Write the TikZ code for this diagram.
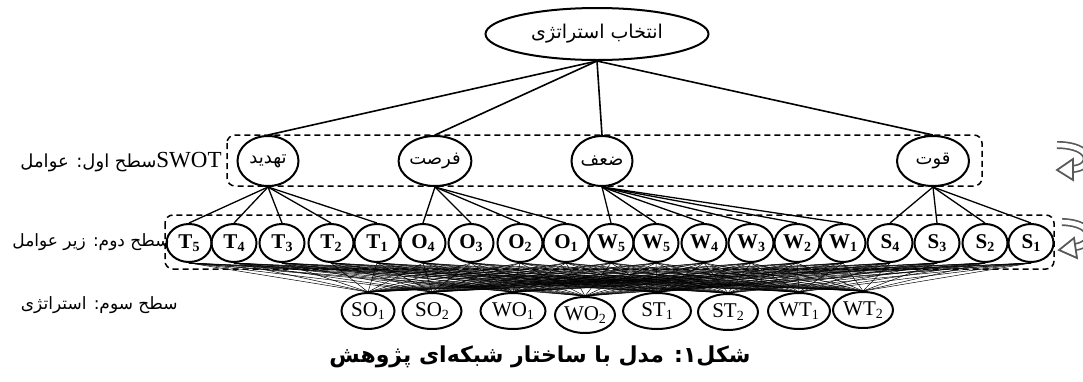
\documentclass[tikz,border=0pt]{standalone}
\usepackage{fontspec}
\setmainfont{Liberation Serif}
\newfontfamily\fa[Script=Arabic]{DejaVu Sans}
\TeXXeTstate=1
\usetikzlibrary{shapes.geometric,arrows.meta}
\newcommand\lsub[1]{\raisebox{-0.25ex}{\fontsize{7}{7}\selectfont #1}}
\begin{document}
\begin{tikzpicture}[x=0.5pt,y=-0.5pt,
  topnode/.style={ellipse,draw,line width=1pt,inner sep=0pt,minimum width=111.5pt,minimum height=26pt,font=\fa\fontsize{9.5}{10}\selectfont},
  lonenode/.style={ellipse,draw,line width=1pt,inner sep=0pt,minimum width=30.5pt,minimum height=25pt,font=\fa\fontsize{9}{10}\selectfont},
  ltwonode/.style={ellipse,draw,line width=1pt,inner sep=0pt,minimum width=22.5pt,minimum height=19pt,font=\bfseries\fontsize{10.5}{10}\selectfont},
  lthreenode/.style={ellipse,draw,line width=1pt,inner sep=0pt,minimum height=18pt,font=\fontsize{10.5}{10}\selectfont},
  topedge/.style={line width=0.8pt},
  midedge/.style={line width=0.65pt},
  meshedge/.style={line width=0.25pt},
  dashbox/.style={dashed,line width=0.75pt,dash pattern=on 3pt off 2pt,rounded corners=4pt},
  lvllabel/.style={anchor=east,inner sep=0pt,font=\fa\fontsize{8.5}{10}\selectfont},
  hollowarrow/.style={line width=4pt,draw=black!65},
  hollowinner/.style={line width=2.3pt,draw=white}
]
\useasboundingbox (0,0) rectangle (1083,381);

% dashed boxes
\draw[dashbox] (227,135) rectangle (982,186);
\draw[dashbox] (165,215) rectangle (1054,269);

% top node
\node[topnode] (top) at (597,34) {\beginR انتخاب استراتژی\endR};

% level 1
\node[lonenode] (thr) at (268,161) {\beginR تهدید\endR};
\node[lonenode] (opp) at (435,161) {\beginR فرصت\endR};
\node[lonenode] (wea) at (602,161) {\beginR ضعف\endR};
\node[lonenode,minimum width=36pt] (str) at (933,161) {\beginR قوت\endR};

\foreach \n in {thr,opp,wea,str} \draw[topedge] (top.south) -- (\n.north);

% level 2
\foreach \n/\l/\s/\x in {T5/T/5/189,T4/T/4/234,T3/T/3/282,T2/T/2/331,T1/T/1/377,
  O4/O/4/423,O3/O/3/471,O2/O/2/520,O1/O/1/566,W5a/W/5/611,W5b/W/5/656,W4/W/4/704,
  W3/W/3/751,W2/W/2/797,W1/W/1/843,S4/S/4/890,S3/S/3/937,S2/S/2/985,S1/S/1/1031}
  \node[ltwonode] (\n) at (\x,243) {\l\lsub{\s}};

\foreach \n in {T5,T4,T3,T2,T1} \draw[midedge] (thr.south) -- (\n.north);
\foreach \n in {O4,O3,O2,O1} \draw[midedge] (opp.south) -- (\n.north);
\foreach \n in {W5a,W5b,W4,W3,W2,W1} \draw[midedge] (wea.south) -- (\n.north);
\foreach \n in {S4,S3,S2,S1} \draw[midedge] (str.south) -- (\n.north);

% level 3
\node[lthreenode,minimum width=26.5pt] (SO1) at (368,311) {SO\lsub{1}};
\node[lthreenode,minimum width=29.5pt] (SO2) at (432,311) {SO\lsub{2}};
\node[lthreenode,minimum width=32.5pt] (WO1) at (513,311) {WO\lsub{1}};
\node[lthreenode,minimum width=30pt] (WO2) at (585,315) {WO\lsub{2}};
\node[lthreenode,minimum width=34pt] (ST1) at (657,311) {ST\lsub{1}};
\node[lthreenode,minimum width=30pt] (ST2) at (728,312) {ST\lsub{2}};
\node[lthreenode,minimum width=31pt] (WT1) at (799,311) {WT\lsub{1}};
\node[lthreenode,minimum width=30pt] (WT2) at (863,310) {WT\lsub{2}};

\foreach \a in {T5,T4,T3,T2,T1,O4,O3,O2,O1,W5a,W5b,W4,W3,W2,W1,S4,S3,S2,S1}
  \foreach \b in {SO1,SO2,WO1,WO2,ST1,ST2,WT1,WT2}
    \draw[meshedge] (\a.south) -- (\b.north);

% level labels
\node[lvllabel,font=\fa\fontsize{9}{10}\selectfont] (lab1) at (222,162) {\beginR سطح اول: عوامل\endR{\rmfamily\fontsize{11.5}{11}\selectfont SWOT}};
\node[lvllabel] (lab2) at (170,242) {\beginR سطح دوم: زیر عوامل\endR};
\node[lvllabel] (lab3) at (178,305) {\beginR سطح سوم: استراتژی\endR};

% caption
\node[font=\fa\bfseries\fontsize{11}{12}\selectfont,inner sep=0pt] (cap) at (540,357) {\beginR شکل۱:  مدل با ساختار شبکه‌ای پژوهش\endR};

% right curved hollow arrows
\draw[hollowarrow] (1057,145) .. controls (1094,145) and (1094,168) .. (1072,169);
\draw[hollowinner] (1057,145) .. controls (1094,145) and (1094,168) .. (1072,169);
\draw[draw=black!65,fill=white,line width=0.9pt] (1057,170) -- (1073,159) -- (1073,180) -- cycle;
\draw[hollowarrow] (1062,222) .. controls (1097,223) and (1094,245) .. (1075,247);
\draw[hollowinner] (1062,222) .. controls (1097,223) and (1094,245) .. (1075,247);
\draw[draw=black!65,fill=white,line width=0.9pt] (1059,250) -- (1074,238) -- (1077,258) -- cycle;
\end{tikzpicture}
\end{document}
